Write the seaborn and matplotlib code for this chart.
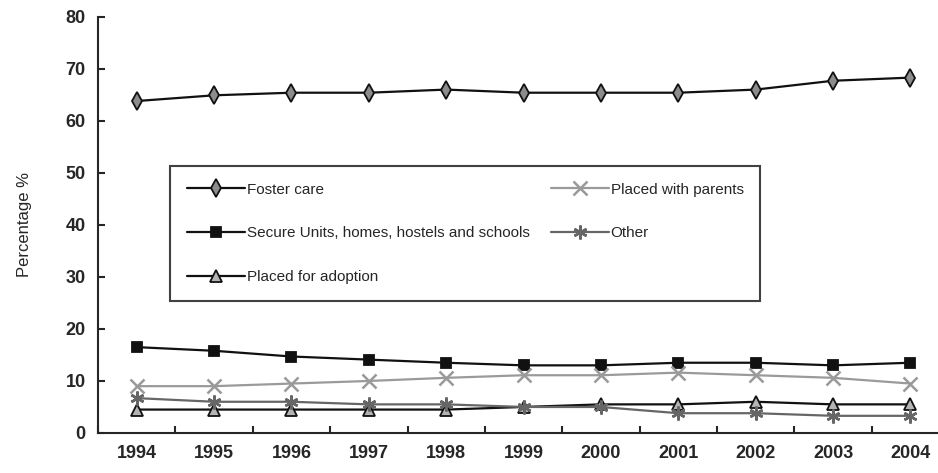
import seaborn as sns
import matplotlib.pyplot as plt
import pandas as pd
import numpy as np

years = ['1994', '1995', '1996', '1997', '1998', '1999', '2000', '2001', '2002', '2003', '2004']
foster_care = [63.8, 64.9, 65.4, 65.4, 66.0, 65.4, 65.4, 65.4, 66.0, 67.7, 68.3]
secure_units = [16.5, 15.8, 14.7, 14.1, 13.5, 13.0, 13.0, 13.5, 13.5, 13.0, 13.5]
placed_for_adoption = [4.5, 4.5, 4.5, 4.5, 4.5, 5.0, 5.5, 5.5, 6.0, 5.5, 5.5]
placed_with_parents = [9.0, 9.0, 9.5, 10.0, 10.6, 11.1, 11.1, 11.6, 11.1, 10.6, 9.5]
other = [6.7, 6.0, 6.0, 5.5, 5.5, 5.0, 5.0, 3.8, 3.8, 3.3, 3.3]

series = [
    ('Foster care', foster_care, dict(color='#111111', marker='d', mfc='#8c8c8c', ms=9)),
    ('Secure Units, homes, hostels and schools', secure_units, dict(color='#111111', marker='s', mfc='#111111', ms=7)),
    ('Placed for adoption', placed_for_adoption, dict(color='#111111', marker='^', mfc='#b4b4b4', ms=8)),
    ('Placed with parents', placed_with_parents, dict(color='#9a9a9a', marker='x', mfc='#9a9a9a', ms=10)),
    ('Other', other, dict(color='#666666', marker=(6, 2, 0), mfc='#666666', ms=10)),
]

sns.set_style('ticks')
plt.rcParams['font.family'] = ['Liberation Sans', 'DejaVu Sans']

fig = plt.figure(figsize=(9.38, 4.73), dpi=100)
ax = fig.add_axes([0.1045, 0.0846, 0.895, 0.88])

x = np.arange(len(years))
for name, vals, st in series:
    df = pd.DataFrame({'x': x, 'y': vals})
    thin = st['marker'] in ['x', (6, 2, 0)]
    sns.lineplot(data=df, x='x', y='y', ax=ax, color=st['color'], linewidth=1.6,
                 marker=st['marker'], markersize=st['ms'], markerfacecolor=st['mfc'],
                 markeredgecolor=st['color'] if thin else '#111111',
                 markeredgewidth=1.8 if thin else 1.3,
                 label=name)

ax.set_xlim(-0.5, 10.35)
ax.set_ylim(0, 80)
ax.set_yticks(range(0, 81, 10))
ax.set_xticks(x)
ax.set_xticklabels(years)
ax.set_xticks(np.arange(-0.5, 10.5, 1), minor=True)
ax.tick_params(axis='x', which='major', length=0, pad=9, labelsize=13)
ax.tick_params(axis='x', which='minor', length=5, width=1.5, direction='in')
ax.tick_params(axis='y', length=5, width=1.5, direction='in', labelsize=13, pad=9)
for lab in ax.get_xticklabels() + ax.get_yticklabels():
    lab.set_fontweight('bold')
ax.set_xlabel('')
ax.set_ylabel('Percentage %', fontsize=12, labelpad=24)
sns.despine(ax=ax)
ax.spines['left'].set_linewidth(1.5)
ax.spines['bottom'].set_linewidth(1.5)

# legend box sized to the reference (about 590 px wide, 134 px tall)
leg = ax.legend(ncol=2, loc='upper left', mode='expand',
                bbox_to_anchor=(0.086, 0.642, 0.703, 0.0), bbox_transform=ax.transAxes,
                borderaxespad=0, frameon=True, fancybox=False, edgecolor='#111111',
                fontsize=11, borderpad=1.1, labelspacing=1.95, handlelength=3.8,
                handletextpad=0.1, columnspacing=2.0)
leg.get_frame().set_linewidth(1.5)

fig.savefig('out.png', dpi=100)
